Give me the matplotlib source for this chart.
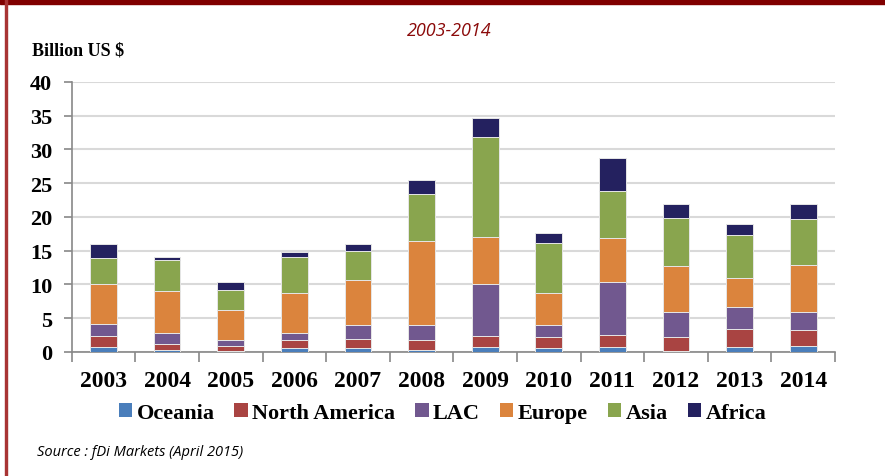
import matplotlib.pyplot as plt
import numpy as np
from matplotlib.patches import Rectangle

# Data (billion US $)
years = ['2003', '2004', '2005', '2006', '2007', '2008',
         '2009', '2010', '2011', '2012', '2013', '2014']
oceania = [0.69, 0.30, 0.15, 0.54, 0.54, 0.30, 0.74, 0.54, 0.74, 0.15, 0.74, 0.94]
north_america = [1.68, 0.89, 0.74, 1.24, 1.44, 1.48, 1.63, 1.63, 1.83, 2.02, 2.66, 2.26]
lac = [1.83, 1.61, 0.84, 1.02, 1.97, 2.17, 7.63, 1.78, 7.83, 3.71, 3.27, 2.68]
europe = [5.80, 6.20, 4.54, 5.94, 6.72, 12.45, 7.00, 4.79, 6.44, 6.82, 4.33, 7.02]
asia = [3.90, 4.70, 2.93, 5.36, 4.23, 7.00, 14.85, 7.46, 6.96, 7.20, 6.40, 6.80]
africa = [2.10, 0.40, 1.20, 0.70, 1.10, 2.10, 2.85, 1.40, 4.90, 2.00, 1.50, 2.20]

series = [
    ('Oceania', oceania, '#4a7ebb'),
    ('North America', north_america, '#a94442'),
    ('LAC', lac, '#71588f'),
    ('Europe', europe, '#db843d'),
    ('Asia', asia, '#89a54e'),
    ('Africa', africa, '#24215f'),
]

serif = 'Liberation Serif'

fig = plt.figure(figsize=(8.85, 4.77), dpi=100)
ax = fig.add_axes([0.081, 0.26, 0.8625, 0.566])

x = np.arange(len(years))
bottom = np.zeros(len(years))
for name, vals, col in series:
    ax.bar(x, vals, 0.42, bottom=bottom, color=col, label=name,
           edgecolor='#e6e6e6', linewidth=0.7, zorder=3)
    bottom += np.array(vals)

ax.set_xlim(-0.5, len(years) - 0.5)
ax.set_ylim(0, 40)
ax.set_yticks(np.arange(0, 41, 5))
ax.yaxis.grid(True, color='#d9d9d9', linewidth=1.5, zorder=0)
ax.set_axisbelow(True)

ax.set_xticks(x)
ax.set_xticklabels(years)
ax.set_xticks(np.arange(-0.5, len(years), 1), minor=True)
ax.tick_params(axis='x', which='major', length=0, pad=13)
ax.tick_params(axis='x', which='minor', length=7, width=1.2, color='#888888')
ax.tick_params(axis='y', length=6, width=1.2, color='#888888', pad=8)
for lab in ax.get_xticklabels():
    lab.set_fontfamily(serif)
    lab.set_fontweight('bold')
    lab.set_fontsize(17)
for lab in ax.get_yticklabels():
    lab.set_fontfamily(serif)
    lab.set_fontweight('bold')
    lab.set_fontsize(16)

for s in ['top', 'right']:
    ax.spines[s].set_visible(False)
for s in ['left', 'bottom']:
    ax.spines[s].set_color('#888888')
    ax.spines[s].set_linewidth(1.2)

# texts
fig.text(0.508, 0.935, '2003-2014', color='#8b0a0a', style='italic',
         fontsize=13, family='Open Sans', ha='center', va='center')
fig.text(0.036, 0.893, 'Billion US $', family=serif, fontweight='bold',
         fontsize=13, ha='left', va='center')
fig.text(0.042, 0.052, 'Source : fDi Markets (April 2015)', style='italic',
         fontsize=10.5, family='Open Sans', ha='left', va='center')

leg = fig.legend(loc='center', bbox_to_anchor=(0.5, 0.133), ncol=6, frameon=False,
                 handlelength=0.6, handleheight=0.6, handletextpad=0.2,
                 columnspacing=0.9, prop={'family': serif, 'weight': 'bold', 'size': 16})
for h in leg.legend_handles:
    h.set_edgecolor('none')

# frame: dark red bar on top, thin red line on left
fig.patches.append(Rectangle((0, 1 - 5 / 477), 1, 5 / 477, transform=fig.transFigure,
                             color='#800000', zorder=10))
fig.patches.append(Rectangle((5 / 885, 0), 2 / 885, 1, transform=fig.transFigure,
                             color='#a83434', zorder=10))

fig.savefig('out.png', dpi=100)
